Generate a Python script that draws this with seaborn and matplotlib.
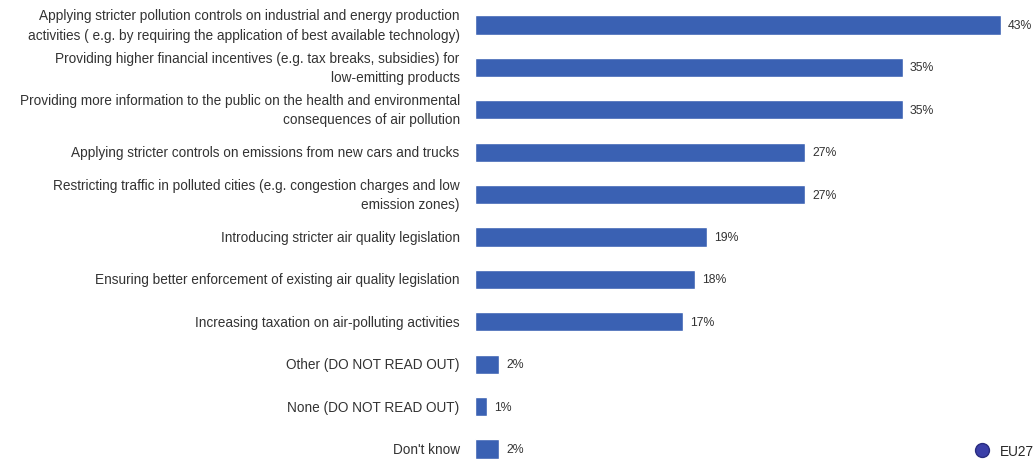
import matplotlib
matplotlib.use("Agg")
import matplotlib.pyplot as plt
from matplotlib.lines import Line2D
import seaborn as sns
import pandas as pd

categories = [
    "Applying stricter pollution controls on industrial and energy production\nactivities ( e.g. by requiring the application of best available technology)",
    "Providing higher financial incentives (e.g. tax breaks, subsidies) for\nlow-emitting products",
    "Providing more information to the public on the health and environmental\nconsequences of air pollution",
    "Applying stricter controls on emissions from new cars and trucks",
    "Restricting traffic in polluted cities (e.g. congestion charges and low\nemission zones)",
    "Introducing stricter air quality legislation",
    "Ensuring better enforcement of existing air quality legislation",
    "Increasing taxation on air-polluting activities",
    "Other (DO NOT READ OUT)",
    "None (DO NOT READ OUT)",
    "Don't know",
]
values = [43, 35, 35, 27, 27, 19, 18, 17, 2, 1, 2]
series_name = "EU27"

df = pd.DataFrame({"category": categories, "value": values})

sns.set_theme(style="white")
plt.rcParams["font.family"] = ["Liberation Sans", "DejaVu Sans"]

W, H = 1035, 460
fig = plt.figure(figsize=(W / 100, H / 100), dpi=100)
fig.patch.set_facecolor("white")

left_px = 475
step = 42.4
top_px = 26 - step / 2
bot_px = 26 + step * 10.5
ax = fig.add_axes([left_px / W, (H - bot_px) / H, (W - left_px) / W, (bot_px - top_px) / H])

bar_color = "#3A61B3"
sns.barplot(data=df, x="value", y="category", orient="h", color=bar_color,
            width=0.45, ax=ax, saturation=1)

px_per_unit = 12.23
ax.set_xlim(0, (W - left_px) / px_per_unit)
ax.set_ylim(10.5, -0.5)

ax.bar_label(ax.containers[0], labels=[f"{v}%" for v in values], padding=5,
             fontsize=8.8, color="#333333")

ax.set_xlabel("")
ax.set_ylabel("")
ax.set_xticks([])
ax.set_yticks(range(len(categories)))
ax.set_yticklabels(categories, fontsize=9.85, color="#333333", linespacing=1.47,
                   ha="right", va="center")
ax.tick_params(axis="y", length=0, pad=11)
for s in ax.spines.values():
    s.set_visible(False)

handle = Line2D([], [], marker="o", linestyle="none", markersize=10,
                markerfacecolor="#3B3FA8", markeredgecolor="#2a2d80", label=series_name)
fig.legend(handles=[handle], loc="center left", bbox_to_anchor=(968 / W, 1 - 452 / H),
           frameon=False, fontsize=9.85, handletextpad=0.3, borderpad=0, borderaxespad=0)

fig.savefig("out.png", dpi=100, facecolor="white")
